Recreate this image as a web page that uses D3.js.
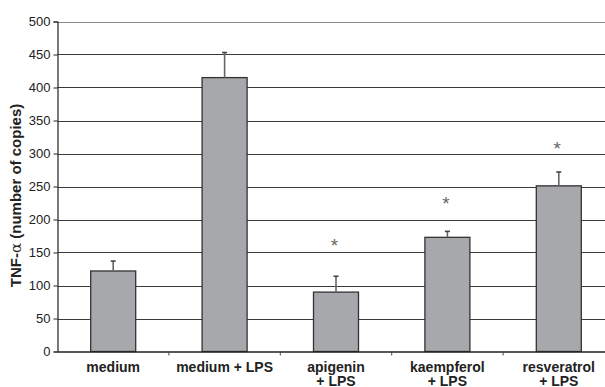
<!DOCTYPE html>
<html>
<head>
<meta charset="utf-8">
<script src="https://cdn.jsdelivr.net/npm/d3@7"></script>
<style>
  html, body { margin: 0; padding: 0; background: #fff; }
  svg { display: block; }
</style>
</head>
<body>
<svg id="chart" width="605" height="387"></svg>
<script>
// ---- data ----
const categories = ["medium", "medium + LPS", "apigenin + LPS", "kaempferol + LPS", "resveratrol + LPS"];
const labelLines = [["medium"], ["medium + LPS"], ["apigenin", "+ LPS"], ["kaempferol", "+ LPS"], ["resveratrol", "+ LPS"]];
const values = [122, 415, 90, 173, 251];
const errors = [15, 38, 24, 9, 21];
const starLevels = [null, null, 165, 228, 312];
const yTicks = [0, 50, 100, 150, 200, 250, 300, 350, 400, 450, 500];
const yTitle = "TNF-";
const yTitleGreek = "α";
const yTitleRest = " (number of copies)";

// ---- layout ----
const svg = d3.select("#chart");
const x0 = 57.5, x1 = 614.5, yTop = 21.5, yBot = 351.5;

const x = d3.scaleBand().domain(categories).range([x0, x1]).padding(0);
const y = d3.scaleLinear().domain([0, 500]).range([yBot, yTop]);
const barW = x.bandwidth() * 0.404;

// gridlines
svg.append("g")
  .selectAll("line")
  .data(yTicks.filter(d => d > 0))
  .join("line")
  .attr("x1", x0).attr("x2", 605)
  .attr("y1", d => Math.round(y(d)) + 0.5).attr("y2", d => Math.round(y(d)) + 0.5)
  .attr("stroke", d => d === 500 ? "#8a8a8a" : "#3a3a3a")
  .attr("stroke-width", 1);

// y axis
const yAxis = d3.axisLeft(y).tickValues(yTicks).tickSize(4).tickPadding(3);
const gy = svg.append("g").attr("transform", `translate(${x0},0)`).call(yAxis);
gy.select(".domain").attr("stroke", "#222").attr("stroke-width", 1.2);
gy.selectAll(".tick line").attr("stroke", "#222");
gy.selectAll(".tick text")
  .attr("font-family", "Liberation Sans, Arial, sans-serif")
  .attr("font-size", "13px")
  .attr("fill", "#222");

// bars
svg.append("g")
  .selectAll("rect")
  .data(categories)
  .join("rect")
  .attr("x", (d) => x(d) + x.bandwidth() / 2 - barW / 2)
  .attr("y", (d, i) => y(values[i]))
  .attr("width", barW)
  .attr("height", (d, i) => y(0) - y(values[i]))
  .attr("fill", "#a7a8ab")
  .attr("stroke", "#333")
  .attr("stroke-width", 1.3);

// error bars
const eg = svg.append("g");
categories.forEach((c, i) => {
  const cx = x(c) + x.bandwidth() / 2;
  eg.append("line")
    .attr("x1", cx).attr("x2", cx)
    .attr("y1", y(values[i])).attr("y2", y(values[i] + errors[i]))
    .attr("stroke", "#666").attr("stroke-width", 1.6);
  eg.append("line")
    .attr("x1", cx - 2.5).attr("x2", cx + 2.5)
    .attr("y1", y(values[i] + errors[i])).attr("y2", y(values[i] + errors[i]))
    .attr("stroke", "#444").attr("stroke-width", 1.6);
});

// stars
svg.append("g")
  .selectAll("text")
  .data(categories.map((c, i) => ({ c, s: starLevels[i] })).filter(d => d.s !== null))
  .join("text")
  .attr("x", d => x(d.c) + x.bandwidth() / 2 - 1.5)
  .attr("y", d => y(d.s) + 9)
  .attr("text-anchor", "middle")
  .attr("font-family", "Liberation Sans, Arial, sans-serif")
  .attr("font-size", "19px")
  .attr("fill", "#666")
  .text("*");

// x axis
const xAxis = d3.axisBottom(x).tickValues([]).tickSizeOuter(0);
const gx = svg.append("g").attr("transform", `translate(0,${yBot})`).call(xAxis);
gx.select(".domain").attr("stroke", "#222").attr("stroke-width", 1.3);
// category boundary ticks
gx.selectAll("line.bt")
  .data(categories.slice(1))
  .join("line")
  .attr("class", "bt")
  .attr("x1", d => x(d)).attr("x2", d => x(d))
  .attr("y1", 0).attr("y2", 4)
  .attr("stroke", "#444");

// x labels
const lg = svg.append("g")
  .attr("font-family", "Liberation Sans, Arial, sans-serif")
  .attr("font-size", "14px")
  .attr("font-weight", "bold")
  .attr("fill", "#222")
  .attr("text-anchor", "middle");
categories.forEach((c, i) => {
  const t = lg.append("text").attr("x", x(c) + x.bandwidth() / 2).attr("y", 371.5);
  labelLines[i].forEach((ln, j) => {
    t.append("tspan").attr("x", x(c) + x.bandwidth() / 2).attr("dy", j === 0 ? 0 : 14.6).text(ln);
  });
});

// y title
const yt = svg.append("text")
  .attr("transform", `translate(21,${(yTop + yBot) / 2 + 9}) rotate(-90)`)
  .attr("text-anchor", "middle")
  .attr("font-family", "Liberation Sans, Arial, sans-serif")
  .attr("font-size", "15px")
  .attr("font-weight", "bold")
  .attr("fill", "#222");
yt.append("tspan").text(yTitle);
yt.append("tspan").attr("font-family", "DejaVu Serif, serif").attr("font-weight", "normal").text(yTitleGreek);
yt.append("tspan").text(yTitleRest);
</script>
</body>
</html>
